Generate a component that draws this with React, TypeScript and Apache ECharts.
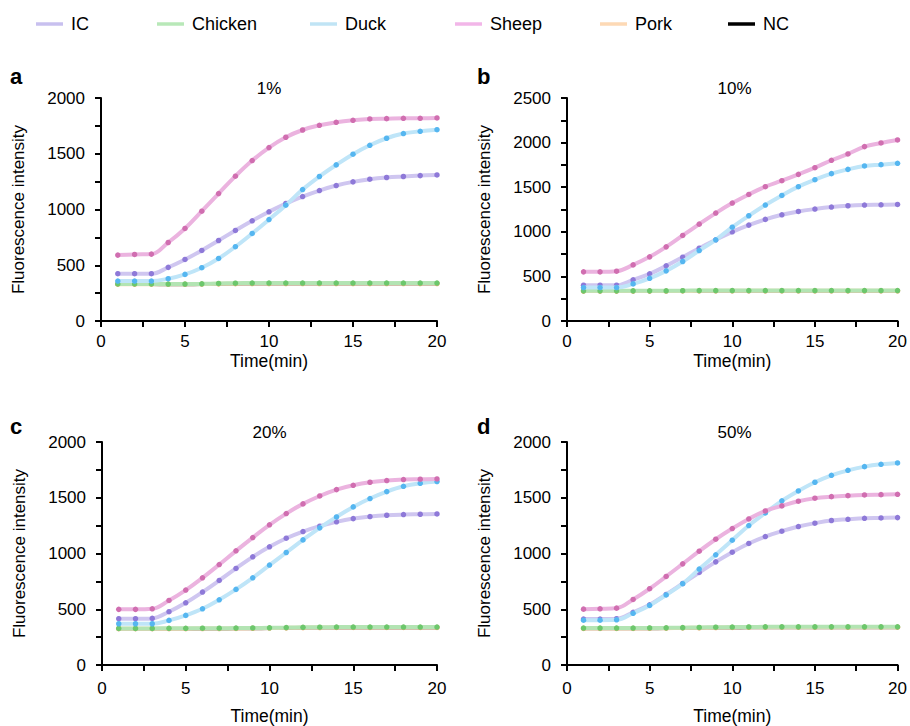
import React, { useEffect, useRef } from "react";
import * as echarts from "echarts";

const TIMES = [1, 2, 3, 4, 5, 6, 7, 8, 9, 10, 11, 12, 13, 14, 15, 16, 17, 18, 19, 20];
const SERIES_NAMES = ["IC", "Chicken", "Duck", "Sheep", "Pork", "NC"];
const PANEL_TITLES = ["1%", "10%", "20%", "50%"];
const PANEL_LETTERS = ["a", "b", "c", "d"];
const Y_MAX = [2000, 2500, 2000, 2000];

// Panel a (1%)
const IC_A = [424, 424, 424, 481, 552, 633, 722, 812, 899, 979, 1054, 1116, 1170, 1215, 1248, 1272, 1287, 1296, 1304, 1310];
const DUCK_A = [358, 358, 358, 379, 418, 478, 561, 666, 785, 910, 1039, 1179, 1296, 1400, 1496, 1576, 1639, 1681, 1701, 1716];
const SHEEP_A = [591, 597, 600, 704, 830, 985, 1143, 1299, 1439, 1555, 1648, 1713, 1755, 1782, 1800, 1812, 1815, 1818, 1818, 1821];
const CHICKEN_A = [332, 332, 332, 331, 331, 333, 337, 339, 340, 340, 340, 340, 340, 340, 340, 340, 340, 340, 340, 340];
const PORK_A = [330, 330, 330, 330, 330, 331, 333, 335, 336, 336, 336, 336, 336, 336, 336, 336, 336, 336, 336, 336];
const NC_A = [320, 320, 320, 319, 319, 320, 322, 324, 325, 325, 325, 325, 325, 325, 325, 325, 325, 325, 325, 325];

// Panel b (10%)
const IC_B = [401, 401, 401, 461, 528, 618, 715, 816, 910, 1000, 1075, 1139, 1191, 1228, 1255, 1277, 1292, 1300, 1303, 1307];
const DUCK_B = [375, 375, 375, 416, 479, 562, 667, 790, 910, 1052, 1180, 1300, 1408, 1506, 1584, 1652, 1700, 1738, 1753, 1768];
const SHEEP_B = [551, 551, 558, 629, 719, 831, 959, 1086, 1210, 1322, 1419, 1506, 1573, 1644, 1719, 1802, 1873, 1955, 1996, 2030];
const CHICKEN_B = [338, 338, 338, 338, 338, 339, 340, 341, 341, 341, 341, 341, 341, 341, 341, 341, 341, 341, 341, 341];
const PORK_B = [335, 335, 335, 335, 335, 336, 337, 338, 338, 338, 338, 338, 338, 338, 338, 338, 338, 338, 338, 338];
const NC_B = [324, 324, 324, 324, 324, 324, 325, 326, 326, 326, 326, 326, 326, 326, 326, 326, 326, 326, 326, 326];

// Panel c (20%)
const IC_C = [415, 415, 418, 478, 558, 654, 758, 866, 970, 1060, 1137, 1197, 1245, 1284, 1313, 1331, 1343, 1349, 1352, 1355];
const DUCK_C = [370, 370, 370, 400, 445, 504, 585, 678, 782, 896, 1009, 1122, 1230, 1328, 1418, 1493, 1555, 1603, 1630, 1645];
const SHEEP_C = [499, 499, 504, 579, 672, 782, 901, 1024, 1143, 1257, 1358, 1445, 1516, 1573, 1612, 1639, 1654, 1663, 1666, 1669];
const CHICKEN_C = [328, 328, 328, 329, 329, 330, 330, 331, 332, 334, 336, 338, 339, 340, 340, 340, 340, 340, 340, 340];
const PORK_C = [326, 326, 326, 326, 326, 327, 327, 328, 329, 331, 333, 335, 336, 337, 337, 337, 337, 337, 337, 337];
const NC_C = [316, 316, 316, 316, 316, 317, 317, 318, 319, 320, 322, 324, 325, 326, 326, 326, 326, 326, 326, 326];

// Panel d (50%)
const IC_D = [412, 412, 415, 472, 540, 633, 731, 830, 925, 1012, 1090, 1152, 1200, 1242, 1272, 1296, 1307, 1316, 1319, 1322];
const DUCK_D = [402, 402, 405, 464, 534, 628, 729, 860, 988, 1119, 1251, 1364, 1472, 1561, 1639, 1701, 1746, 1779, 1800, 1812];
const SHEEP_D = [501, 504, 510, 588, 684, 794, 907, 1021, 1128, 1224, 1310, 1382, 1427, 1469, 1496, 1510, 1519, 1525, 1528, 1531];
const CHICKEN_D = [331, 331, 331, 331, 332, 333, 335, 337, 339, 340, 341, 342, 342, 342, 342, 342, 342, 342, 342, 342];
const PORK_D = [328, 328, 328, 328, 329, 330, 332, 334, 336, 337, 338, 339, 339, 339, 339, 339, 339, 339, 339, 339];
const NC_D = [318, 318, 318, 318, 319, 320, 322, 324, 325, 326, 327, 328, 328, 328, 328, 328, 328, 328, 328, 328];

const PANEL_DATA: Record<string, number[]>[] = [
  { IC: IC_A, Chicken: CHICKEN_A, Duck: DUCK_A, Sheep: SHEEP_A, Pork: PORK_A, NC: NC_A },
  { IC: IC_B, Chicken: CHICKEN_B, Duck: DUCK_B, Sheep: SHEEP_B, Pork: PORK_B, NC: NC_B },
  { IC: IC_C, Chicken: CHICKEN_C, Duck: DUCK_C, Sheep: SHEEP_C, Pork: PORK_C, NC: NC_C },
  { IC: IC_D, Chicken: CHICKEN_D, Duck: DUCK_D, Sheep: SHEEP_D, Pork: PORK_D, NC: NC_D },
];

const STYLE: Record<string, { line: string; dot: string; legend: string; width: number; z: number; dots: boolean }> = {
  NC: { line: "#555555", dot: "#3f6b3f", legend: "#000000", width: 1.6, z: 1, dots: false },
  Pork: { line: "#fdd6b0", dot: "#f5b07a", legend: "#fdd9b5", width: 4, z: 2, dots: true },
  Chicken: { line: "#b3e4b3", dot: "#6cc76c", legend: "#b8e8b8", width: 4, z: 3, dots: true },
  IC: { line: "#cfc6f0", dot: "#8e79d8", legend: "#c8c0ef", width: 4, z: 4, dots: true },
  Duck: { line: "#bfe5f8", dot: "#55b6f0", legend: "#c0e4f5", width: 4, z: 5, dots: true },
  Sheep: { line: "#ebb3df", dot: "#d06eb0", legend: "#f2b6e8", width: 4, z: 6, dots: true },
};

const DRAW_ORDER = ["NC", "Pork", "Chicken", "IC", "Duck", "Sheep"];

const GRIDS = [
  { left: 101, top: 98, width: 336, height: 223 },
  { left: 567, top: 98, width: 335, height: 223 },
  { left: 102, top: 442, width: 335, height: 224 },
  { left: 567, top: 442, width: 335, height: 224 },
];
const X_LABEL_MARGIN = [12, 12, 15, 15];
const X_NAME_GAP = [31, 31, 42, 42];

const LEGEND_X = [36, 157, 310, 455, 600, 728];

const FONT = "Liberation Sans, Arial, Helvetica, sans-serif";

export default function App() {
  const ref = useRef<HTMLDivElement>(null);

  useEffect(() => {
    if (!ref.current) return;
    const chart = echarts.init(ref.current, undefined, { renderer: "svg" });

    const axisLine = { show: true, lineStyle: { color: "#000", width: 2 } };
    const xAxes = GRIDS.map((_, i) => ({
      type: "value",
      gridIndex: i,
      min: 0,
      max: 20,
      interval: 5,
      axisLine: { ...axisLine, onZero: false },
      axisTick: { show: true, length: 6, inside: false, lineStyle: { color: "#000", width: 2 } },
      minorTick: { show: true, splitNumber: 2, length: 6, lineStyle: { color: "#000", width: 2 } },
      splitLine: { show: false },
      axisLabel: {
        color: "#000",
        fontSize: 17,
        fontFamily: FONT,
        margin: X_LABEL_MARGIN[i],
        formatter: (v: number) => String(v),
      },
      name: "Time(min)",
      nameLocation: "middle",
      nameGap: X_NAME_GAP[i],
      nameTextStyle: { color: "#000", fontSize: 17.5, fontFamily: FONT },
    }));
    const yAxes = GRIDS.map((_, i) => ({
      type: "value",
      gridIndex: i,
      min: 0,
      max: Y_MAX[i],
      interval: 500,
      axisLine: { ...axisLine, onZero: false },
      axisTick: { show: true, length: 6, inside: false, lineStyle: { color: "#000", width: 2 } },
      minorTick: { show: true, splitNumber: 2, length: 6, lineStyle: { color: "#000", width: 2 } },
      splitLine: { show: false },
      axisLabel: { color: "#000", fontSize: 17, fontFamily: FONT, margin: 16, formatter: (v: number) => String(v) },
      name: "Fluorescence intensity",
      nameLocation: "middle",
      nameGap: 74,
      nameRotate: 90,
      nameTextStyle: { color: "#000", fontSize: 17, fontFamily: FONT },
    }));

    const series: any[] = [];
    PANEL_DATA.forEach((panel, pi) => {
      DRAW_ORDER.forEach((name) => {
        const st = STYLE[name];
        series.push({
          name,
          type: "line",
          xAxisIndex: pi,
          yAxisIndex: pi,
          data: TIMES.map((t, k) => [t, panel[name][k]]),
          smooth: 0.4,
          symbol: "circle",
          symbolSize: st.dots ? 5.5 : 0,
          showSymbol: st.dots,
          z: st.z,
          lineStyle: { color: st.line, width: st.width },
          itemStyle: { color: st.dot },
          emphasis: { disabled: true },
        });
      });
    });

    const legends = SERIES_NAMES.map((name, i) => ({
      data: [{ name, itemStyle: { color: STYLE[name].legend } }],
      left: LEGEND_X[i],
      top: 15,
      icon: "rect",
      itemWidth: 27,
      itemHeight: 3.5,
      itemGap: 0,
      padding: 0,
      textStyle: { color: "#000", fontSize: 18, fontFamily: FONT, padding: [0, 0, 0, 3] },
      selectedMode: false,
    }));

    const centers = GRIDS.map((g) => g.left + g.width / 2);
    const graphic: any[] = [];
    const titleY = [88, 88, 432, 432];
    const letterPos = [
      [10, 76],
      [477, 76],
      [10, 426],
      [477, 426],
    ];
    PANEL_TITLES.forEach((t, i) => {
      graphic.push({
        type: "text",
        x: centers[i],
        y: titleY[i],
        style: { text: t, fill: "#000", font: `17px ${FONT}`, textAlign: "center", textVerticalAlign: "middle" },
      });
      graphic.push({
        type: "text",
        x: letterPos[i][0],
        y: letterPos[i][1],
        style: {
          text: PANEL_LETTERS[i],
          fill: "#000",
          font: `bold 22px ${FONT}`,
          textAlign: "left",
          textVerticalAlign: "middle",
        },
      });
    });

    chart.setOption({
      animation: false,
      backgroundColor: "#fff",
      legend: legends,
      grid: GRIDS.map((g) => ({ ...g, containLabel: false })),
      xAxis: xAxes,
      yAxis: yAxes,
      series,
      graphic,
    });

    return () => chart.dispose();
  }, []);

  return <div ref={ref} style={{ width: 910, height: 726, position: "absolute", left: 0, top: 0 }} />;
}
